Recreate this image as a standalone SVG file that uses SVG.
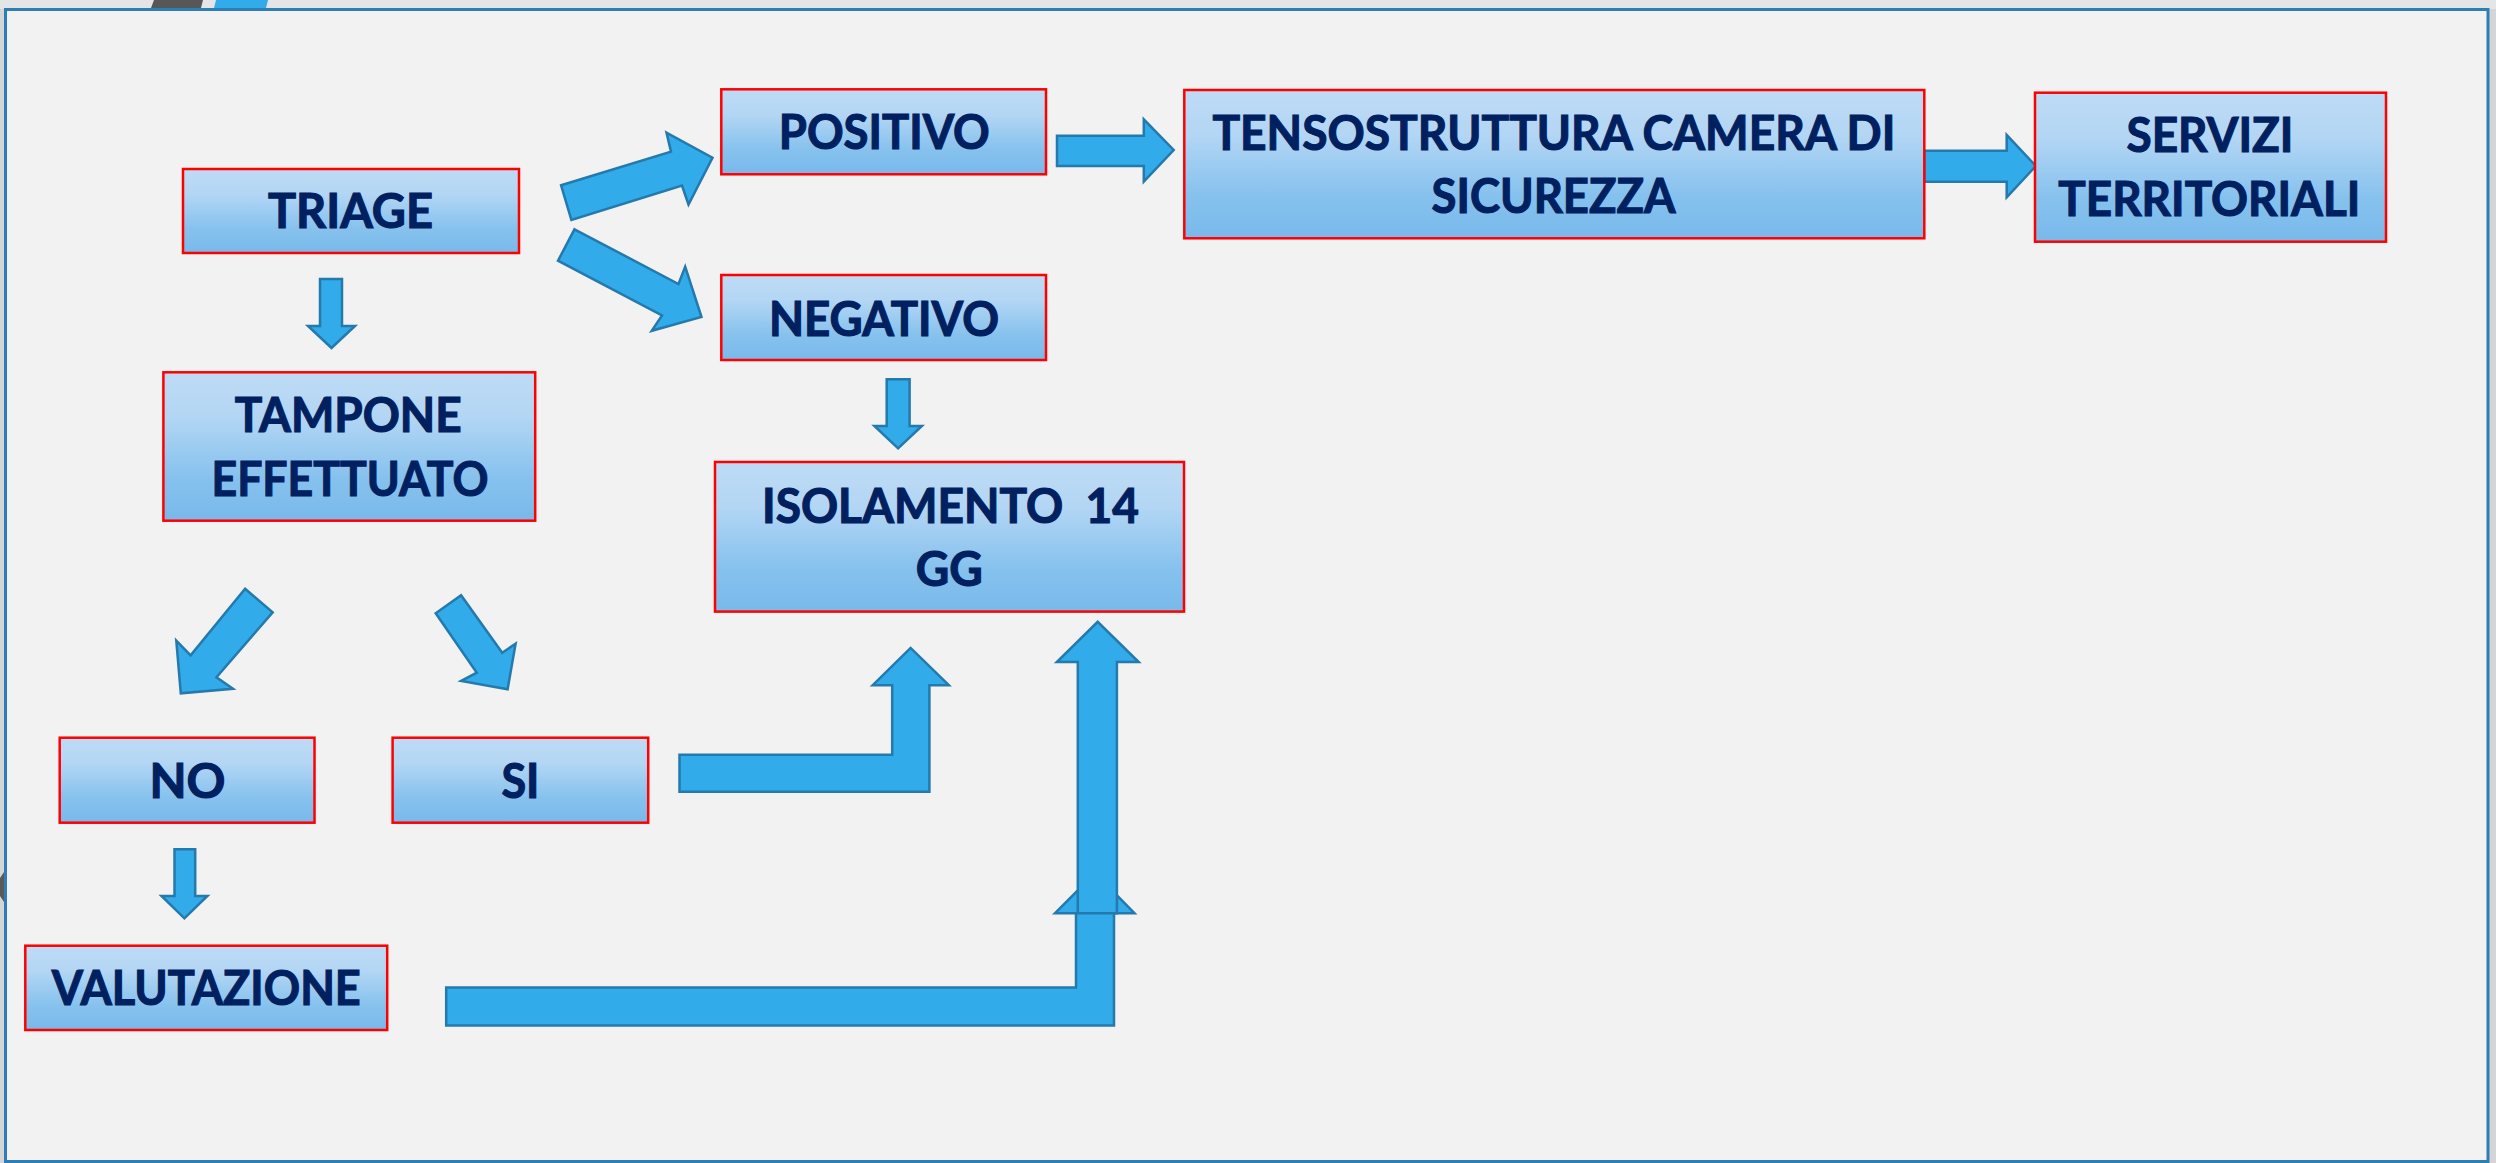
<svg xmlns="http://www.w3.org/2000/svg" width="2496" height="1163" viewBox="0 0 2496 1163">
<defs>
<linearGradient id="boxg" x1="0" y1="0" x2="0" y2="1">
<stop offset="0" stop-color="#bedbf5"/>
<stop offset="0.3" stop-color="#b3d6f4"/>
<stop offset="0.7" stop-color="#87c2ee"/>
<stop offset="1" stop-color="#78b9eb"/>
</linearGradient>
<style>
.box{fill:url(#boxg);stroke:#ff0000;stroke-width:2.5}
.lbl{font-family:Lato,"Open Sans","Liberation Sans",sans-serif;font-weight:bold;font-size:47px;fill:#002060;stroke:#002060;stroke-width:1.1;text-anchor:middle}
.arr{fill:#31abe9;stroke:#2479ad;stroke-width:2.5;stroke-linejoin:miter}
</style>
</defs>
<rect x="0" y="0" width="2496" height="1163" fill="#d4d5d6"/>
<rect x="0" y="0" width="2496" height="9" fill="#e4e5e6"/>
<polygon points="151,8 154,0 203,0 201,8" fill="#575757"/>
<polygon points="214,8 216,0 268,0 266,8" fill="#31abe9"/>
<polygon points="0,878 4,872 4,902 0,896" fill="#595959"/>
<rect x="5.5" y="9.5" width="2482.5" height="1152" fill="#f2f2f2" stroke="#2e7db5" stroke-width="3"/>

<g id="connectors">
<polygon class="arr" points="320,279 342,279 342,326 355,326 331.5,348 308,326 320,326"/>
<polygon class="arr" points="561.1,185.3 671,151.7 666.5,132.7 712.5,157.7 688.5,204.5 682,185.5 571.4,220"/>
<polygon class="arr" points="574.5,229.3 678.5,284 685.2,266.7 701.5,317 651.7,330.8 662,315.4 558,260.7"/>
<polygon class="arr" points="245.1,588.7 272.7,612.3 216.5,677.3 233,688.7 180.8,693.3 176.3,640.7 190.6,655.3"/>
<polygon class="arr" points="461.1,595.3 502.2,652.7 515.6,643.7 507.6,689.3 461.1,681 476.8,672.7 435.7,613.3"/>
<polygon class="arr" points="174.5,849.3 195.2,849.3 195.2,896 207.4,896 184.4,918.3 161.5,896 174.5,896"/>
<polygon class="arr" points="886.7,379.3 909.6,379.3 909.6,426 921.9,426 898.1,448.3 874.4,426 886.7,426"/>
<polygon class="arr" points="1057,135.7 1143.8,135.7 1143.8,119.3 1173.7,150 1143.8,181.7 1143.8,166 1057,166"/>
<polygon class="arr" points="1924.3,150.7 2006.7,150.7 2006.7,135 2035.9,166 2006.7,197.3 2006.7,181.7 1924.3,181.7"/>
<polygon class="arr" points="679.5,754.8 892.2,754.8 892.2,685.2 872.7,685.2 910.6,647.9 948.9,685.2 929.4,685.2 929.4,791.7 679.5,791.7"/>
<polygon class="arr" points="446.2,987.5 1076,987.5 1076,913.2 1055,913.2 1095,873 1134.5,913.2 1114,913.2 1114,1025.5 446.2,1025.5"/>
<polygon class="arr" points="1077.8,913.2 1077.8,662 1056.8,662 1097.7,621.8 1138.7,662 1116.9,662 1116.9,913.2"/>
</g>

<g id="triage">
<rect class="box" x="183" y="169" width="336" height="84"/>
<text class="lbl" x="350.4" y="228" textLength="165" lengthAdjust="spacingAndGlyphs">TRIAGE</text>
</g>
<g id="tampone">
<rect class="box" x="163.4" y="372.3" width="371.8" height="148.4"/>
<text class="lbl" x="348.2" y="432" textLength="227" lengthAdjust="spacingAndGlyphs">TAMPONE</text>
<text class="lbl" x="350" y="496" textLength="277" lengthAdjust="spacingAndGlyphs">EFFETTUATO</text>
</g>
<g id="no">
<rect class="box" x="59.7" y="737.7" width="254.8" height="85"/>
<text class="lbl" x="187.5" y="798" textLength="76" lengthAdjust="spacingAndGlyphs">NO</text>
</g>
<g id="si">
<rect class="box" x="392.6" y="737.7" width="255.6" height="85"/>
<text class="lbl" x="520.4" y="798" textLength="38" lengthAdjust="spacingAndGlyphs">SI</text>
</g>
<g id="valutazione">
<rect class="box" x="25.3" y="945.7" width="361.9" height="84.3"/>
<text class="lbl" x="206.3" y="1005" textLength="309" lengthAdjust="spacingAndGlyphs">VALUTAZIONE</text>
</g>
<g id="positivo">
<rect class="box" x="721.3" y="89.3" width="324.7" height="85"/>
<text class="lbl" x="884.3" y="149.3" textLength="211" lengthAdjust="spacingAndGlyphs">POSITIVO</text>
</g>
<g id="negativo">
<rect class="box" x="721.3" y="275" width="324.7" height="85"/>
<text class="lbl" x="884" y="336" textLength="230" lengthAdjust="spacingAndGlyphs">NEGATIVO</text>
</g>
<g id="isolamento">
<rect class="box" x="715" y="462" width="469" height="149.6"/>
<text class="lbl" x="950.5" y="523" textLength="377" lengthAdjust="spacingAndGlyphs" xml:space="preserve">ISOLAMENTO  14</text>
<text class="lbl" x="949.2" y="585.7" textLength="67" lengthAdjust="spacingAndGlyphs">GG</text>
</g>
<g id="tensostruttura">
<rect class="box" x="1184.3" y="90" width="740" height="148.3"/>
<text class="lbl" x="1553.9" y="150" textLength="683" lengthAdjust="spacingAndGlyphs">TENSOSTRUTTURA CAMERA DI</text>
<text class="lbl" x="1553.5" y="213.3" textLength="244" lengthAdjust="spacingAndGlyphs">SICUREZZA</text>
</g>
<g id="servizi">
<rect class="box" x="2035" y="92.7" width="351" height="149"/>
<text class="lbl" x="2210" y="151.7" textLength="167" lengthAdjust="spacingAndGlyphs">SERVIZI</text>
<text class="lbl" x="2209.3" y="216" textLength="302" lengthAdjust="spacingAndGlyphs">TERRITORIALI</text>
</g>
</svg>
